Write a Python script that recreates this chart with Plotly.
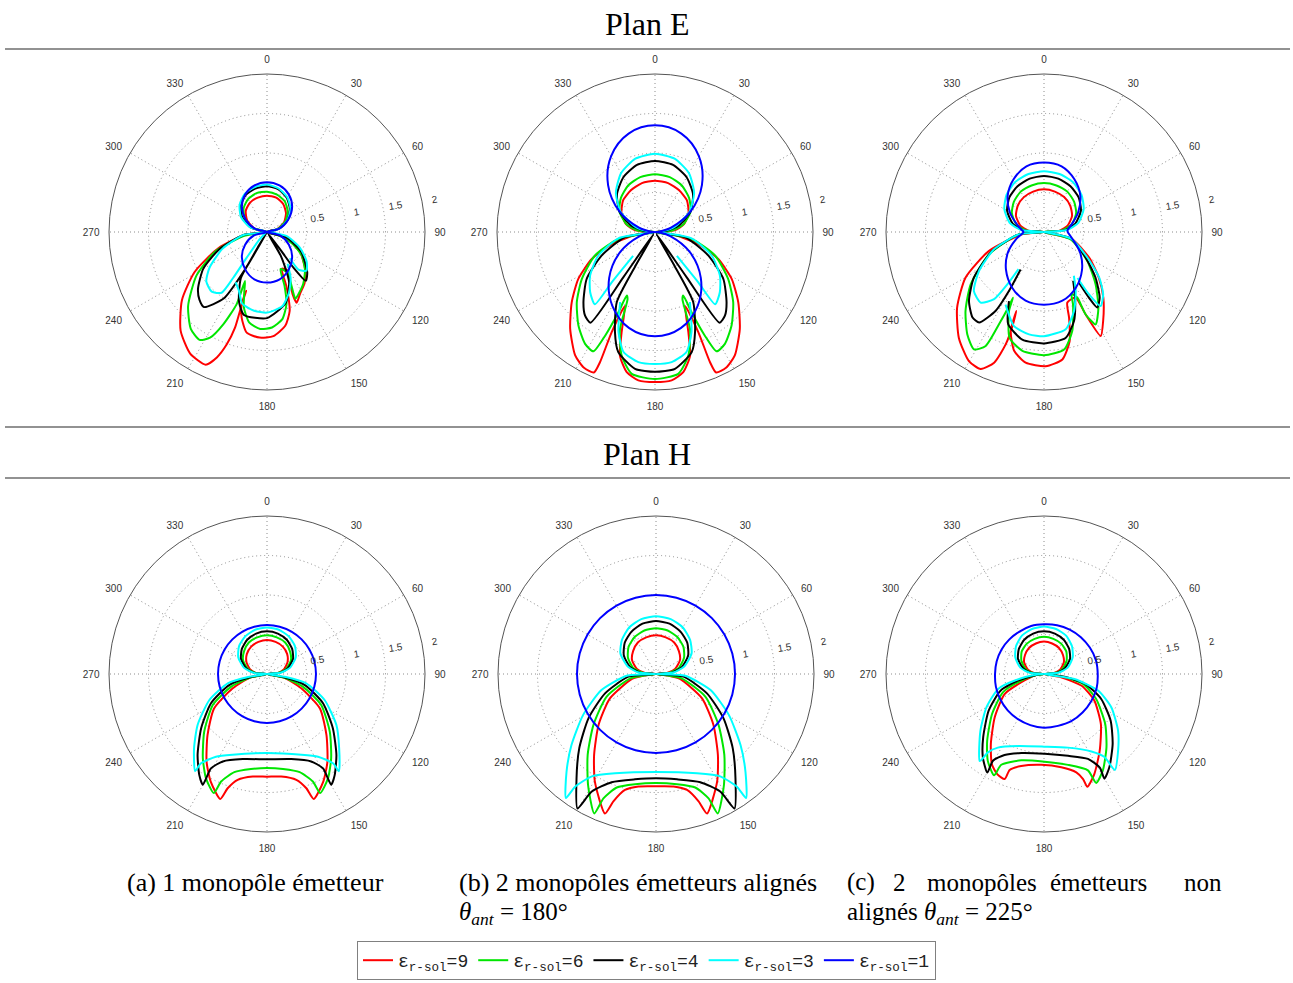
import plotly.graph_objects as go

# ---------------- data : (theta in degrees, clockwise from top ; r) ----------------
LEGEND_NAMES = ["ε<sub>r-sol</sub>=9", "ε<sub>r-sol</sub>=6", "ε<sub>r-sol</sub>=4",
                "ε<sub>r-sol</sub>=3", "ε<sub>r-sol</sub>=1"]
COLORS = ["#ff0000", "#00e600", "#000000", "#00ffff", "#0000ff"]
ANGLE_TICKS = [0, 30, 60, 90, 120, 150, 180, 210, 240, 270, 300, 330]
RADIAL_TICKS = [0.5, 1, 1.5, 2]
RADIAL_LABELS = ["0.5", "1", "1.5", "2"]
N = None

# ---- Plan E (a) : 1 monopole ----
EA_RED = [(90,0),(75,0.13),(60,0.25),(45,0.34),(30,0.41),(15,0.45),(0,0.46),(345,0.45),(330,0.43),(315,0.38),(300,0.29),(285,0.16),(270,0),
          (263.5,0.26),(251.6,0.65),(241,1.05),(231.3,1.38),(221.2,1.66),(212.3,1.82),(204.8,1.85),(201.8,1.71),(199.7,1.51),(198.5,1.28),(198.9,1.06),(199.6,0.79),
          (199.3,0.97),(196.5,1.13),(191.4,1.30),(184,1.34),(176.5,1.32),(169,1.21),(164,1.04),(160.5,0.75),(158,0.5),
          (152,0.55),(155,0.68),(157.6,0.85),(157.2,0.97),(152.1,0.89),(143.4,0.80),(134,0.67),(122,0.50),(113.4,0.34),(107.1,0.17),(90,0)]
EA_GREEN = [(90,0),(75,0.14),(60,0.27),(45,0.37),(30,0.45),(15,0.49),(0,0.51),(345,0.51),(330,0.48),(315,0.42),(300,0.32),(285,0.18),(270,0),
            (260.4,0.30),(249.3,0.70),(238.3,1.05),(226.8,1.37),(218.2,1.56),(212,1.61),(208.3,1.52),(205.3,1.29),(202.8,0.99),(204.2,0.68),
            (201,0.8),(197,1.0),(191,1.17),(184,1.23),(177,1.21),(170,1.12),(165,0.95),(162,0.72),(160,0.5),
            (153,0.58),(155.5,0.75),(157,0.92),(153,0.88),(145,0.80),(135,0.68),(124,0.53),(115,0.36),(107,0.18),(90,0)]
EA_BLACK = [(90,0),(75,0.16),(60,0.30),(45,0.41),(30,0.50),(15,0.56),(0,0.58),(345,0.57),(330,0.54),(315,0.47),(300,0.36),(285,0.21),(270,0),
            (262.8,0.30),(249.8,0.65),(240.1,0.93),(230.6,1.13),(225,1.21),(220,1.24),(213,1.0),(210.4,0.53),(211,0.2),(212,0.02),(210,0.35),(209.6,0.67),
            (201.9,0.95),(195.5,1.09),(180,1.09),(165.3,0.93),(156.1,0.69),(150,0.35),(145,0.02),
            (143,0.3),(143.4,0.57),(141.5,0.79),(135,0.72),(120,0.50),(106,0.26),(90,0)]
EA_CYAN = [(90,0),(75,0.16),(60,0.30),(45,0.42),(30,0.51),(15,0.57),(0,0.60),(345,0.59),(330,0.56),(315,0.49),(300,0.38),(285,0.22),(270,0),
           (262.8,0.30),(249.5,0.60),(238,0.86),(230.9,0.99),(222.8,1.03),(216.8,0.96),(216.4,0.72),(218.4,0.41),(223.9,0.16),(240,0.02),(N,N),
           (212,0.75),(205.8,0.82),(199.1,0.96),(189.3,1.01),(180,1.02),(168.4,0.96),(160.3,0.82),(153,0.66),(147,0.48),(N,N),
           (139,0.44),(140,0.62),(134.5,0.70),(126.2,0.62),(115.4,0.46),(101.5,0.25),(90,0)]
EA_BLUE = [(90,0),(75,0.16),(60,0.31),(45,0.45),(30,0.55),(15,0.61),(0,0.63),(345,0.61),(330,0.55),(315,0.45),(300,0.31),(285,0.16),(270,0),
           (255,0.17),(240,0.32),(225,0.45),(210,0.55),(195,0.62),(180,0.64),(165,0.62),(150,0.55),(135,0.45),(120,0.32),(105,0.17),(90,0)]

# ---- Plan E (b) : 2 monopoles alignes ----
EB_RED = [(90,0),(85,0.25),(75,0.38),(60,0.49),(45,0.57),(30,0.61),(15,0.64),(0,0.65),(345,0.64),(330,0.61),(315,0.57),(300,0.49),(285,0.38),(275,0.25),(270,0),
          (263.2,0.21),(254.5,0.57),(246.9,0.87),(238.5,1.14),(229.8,1.38),(221.2,1.63),(212.9,1.86),(207.6,1.94),(203.5,1.94),(202.9,1.79),(203.4,1.38),(202.2,1.01),
          (198.4,1.34),(195.8,1.63),(191.4,1.81),(186.4,1.89),(180,1.90),(173.6,1.89),(168.6,1.81),(164.2,1.63),(161.6,1.34),(157.8,1.01),
          (156.6,1.38),(157.1,1.79),(156.5,1.94),(152.4,1.94),(147.1,1.86),(138.8,1.63),(130.2,1.38),(121.5,1.14),(113.1,0.87),(105.5,0.57),(96.8,0.21),(90,0)]
EB_GREEN = [(90,0),(85,0.22),(75,0.37),(60,0.52),(45,0.61),(30,0.68),(15,0.72),(0,0.73),(345,0.72),(330,0.68),(315,0.61),(300,0.52),(285,0.37),(275,0.22),(270,0),
            (259.2,0.47),(248.5,0.82),(237.3,1.10),(228.1,1.33),(219.3,1.53),(212,1.67),(207.3,1.70),(205.7,1.46),(204.5,1.12),(204,0.88),
            (202.2,0.92),(199.8,1.31),(195.1,1.62),(189.3,1.82),(180,1.86),(170.7,1.82),(164.9,1.62),(160.2,1.31),(157.8,0.92),
            (156,0.88),(155.5,1.12),(154.3,1.46),(152.7,1.70),(148,1.67),(140.7,1.53),(131.9,1.33),(122.7,1.10),(111.5,0.82),(100.8,0.47),(90,0)]
EB_BLACK = [(90,0),(85,0.13),(75,0.31),(60,0.52),(45,0.68),(30,0.80),(15,0.88),(0,0.90),(345,0.88),(330,0.80),(315,0.68),(300,0.52),(285,0.31),(275,0.13),(270,0),
            (260,0.39),(246.1,0.74),(235.5,1.05),(225.5,1.27),(219.9,1.38),(215.5,1.41),(215,0.7),(214,0.03),(210,0.5),(208.6,1.01),
            (201.7,1.37),(197,1.59),(188.3,1.75),(180,1.77),(171.7,1.75),(163,1.59),(158.3,1.37),(151.4,1.01),(150,0.5),(146,0.03),
            (145,0.7),(144.5,1.41),(140.1,1.38),(134.5,1.27),(124.5,1.05),(113.9,0.74),(100,0.39),(90,0)]
EB_CYAN = [(90,0),(85,0.09),(75,0.26),(60,0.5),(45,0.70),(30,0.86),(15,0.96),(0,0.99),(345,0.96),(330,0.86),(315,0.70),(300,0.5),(285,0.26),(275,0.09),(270,0),
           (260.2,0.47),(247.3,0.78),(236.1,0.99),(227.1,1.12),(219.8,1.19),(220.7,0.84),(222.5,0.41),(N,N),
           (206.5,0.99),(200,1.35),(194.7,1.57),(187.3,1.66),(180,1.67),(172.7,1.66),(165.3,1.57),(160,1.35),(153.5,0.99),(N,N),
           (137.5,0.41),(139.3,0.84),(140.2,1.19),(132.9,1.12),(123.9,0.99),(112.7,0.78),(99.8,0.47),(90,0)]
EB_BLUE = [(90,0),(85,0.05),(75,0.21),(60,0.52),(45,0.84),(30,1.11),(15,1.29),(0,1.35),(345,1.29),(330,1.11),(315,0.84),(300,0.52),(285,0.21),(275,0.05),(270,0),
           (265,0.05),(255,0.2),(240,0.51),(225,0.82),(210,1.08),(195,1.26),(180,1.32),(165,1.26),(150,1.08),(135,0.82),(120,0.51),(105,0.2),(95,0.05),(90,0)]

# ---- Plan E (c) : 2 monopoles non alignes ----
EC_RED = [(90,0),(85,0.2),(75,0.31),(60,0.41),(45,0.47),(30,0.51),(15,0.53),(0,0.54),(345,0.53),(330,0.51),(315,0.47),(300,0.41),(285,0.31),(275,0.2),(270,0),
          (263.9,0.28),(250.9,0.74),(239.8,1.15),(228.9,1.46),(218.8,1.72),(210.2,1.89),(204.8,1.91),(200.9,1.77),(198.8,1.50),(198.6,1.23),(199.3,1.06),
          (198.6,1.32),(194.1,1.55),(188,1.67),(179.3,1.70),(171.8,1.63),(166.8,1.42),(163.7,1.13),(161.7,0.94),
          (154.3,0.92),(153.2,1.17),(151.4,1.50),(146.3,1.35),(137.9,1.12),(129.7,0.90),(119.7,0.66),(104.5,0.37),(90,0)]
EC_GREEN = [(90,0),(85,0.23),(75,0.36),(60,0.47),(45,0.54),(30,0.59),(15,0.61),(0,0.62),(345,0.61),(330,0.59),(315,0.54),(300,0.47),(285,0.36),(275,0.23),(270,0),
            (264.7,0.32),(247.9,0.75),(234.5,1.14),(224.8,1.41),(216.8,1.62),(210.8,1.73),(207.1,1.62),(206,1.30),(205.3,1.04),(205.3,0.92),
            (203.9,1.09),(198,1.41),(190.3,1.53),(180,1.56),(170.3,1.51),(164,1.30),(158.2,0.99),(156.1,0.86),
            (153.1,0.93),(153.2,1.17),(150.8,1.34),(144.3,1.18),(135.4,0.93),(123.8,0.66),(105.4,0.35),(90,0)]
EC_BLACK = [(90,0),(85,0.27),(75,0.41),(60,0.54),(45,0.62),(30,0.67),(15,0.70),(0,0.71),(345,0.70),(330,0.67),(315,0.62),(300,0.54),(285,0.41),(275,0.27),(270,0),
            (264.7,0.32),(249.8,0.70),(236.9,1.06),(227.4,1.29),(219.9,1.41),(215.6,1.41),(211.5,1.17),(210.7,0.87),(212,0.56),(N,N),
            (206.9,0.98),(201.3,1.25),(191.4,1.39),(180,1.41),(168.5,1.37),(161.4,1.19),(154.7,0.92),(149.1,0.72),(N,N),
            (145.4,0.78),(145.6,1.01),(144.8,1.17),(139.7,1.09),(131.5,0.87),(121.6,0.62),(104,0.35),(90,0)]
EC_CYAN = [(90,0),(85,0.29),(75,0.45),(60,0.58),(45,0.67),(30,0.73),(15,0.76),(0,0.77),(345,0.76),(330,0.73),(315,0.67),(300,0.58),(285,0.45),(275,0.29),(270,0),
           (264.7,0.32),(250.9,0.67),(239,0.96),(229.9,1.16),(221.9,1.20),(216.6,1.06),(215,0.81),(214.5,0.57),(N,N),
           (207.9,1.04),(197.7,1.25),(188.3,1.31),(180,1.32),(167.4,1.26),(159.2,1.07),(151.8,0.85),(145.7,0.67),(N,N),
           (143.9,0.72),(144.2,0.97),(142.6,1.18),(136.6,1.09),(129.7,0.91),(120.6,0.64),(104,0.35),(90,0)]
EC_BLUE = [(0,0.88),(15,0.86),(30,0.77),(45,0.65),(60,0.5),(75,0.36),(85,0.3),(90,0.3),(95,0.32),(105,0.38),(120,0.53),(135,0.68),(150,0.81),(165,0.9),
           (180,0.92),(195,0.9),(210,0.81),(225,0.68),(240,0.53),(255,0.37),(265,0.28),(270,0.26),(275,0.28),(285,0.35),(300,0.5),(315,0.65),(330,0.77),(345,0.86),(360,0.88)]

# ---- Plan H (a) ----
HA_RED = [(90,0),(85,0.13),(75,0.22),(60,0.30),(45,0.36),(30,0.40),(15,0.42),(0,0.43),(345,0.42),(330,0.40),(315,0.36),(300,0.30),(285,0.22),(275,0.13),(270,0),
          (258,0.22),(247.3,0.47),(236.9,0.80),(224.2,1.08),(214.5,1.35),(207.5,1.54),(200.5,1.69),(199,1.53),(195.5,1.39),(187.9,1.31),(180,1.30),
          (172.1,1.31),(164.5,1.39),(161,1.53),(159.5,1.69),(152.5,1.54),(145.5,1.35),(135.8,1.08),(123.1,0.80),(112.7,0.47),(102,0.22),(90,0)]
HA_GREEN = [(90,0),(85,0.14),(75,0.25),(60,0.35),(45,0.41),(30,0.46),(15,0.48),(0,0.49),(345,0.48),(330,0.46),(315,0.41),(300,0.35),(285,0.25),(275,0.14),(270,0),
            (258,0.22),(250.6,0.48),(240.3,0.79),(227.4,1.08),(217.3,1.34),(210.3,1.53),(204.1,1.65),(203.1,1.48),(198.4,1.31),(189.6,1.22),(180,1.19),
            (170.4,1.22),(161.6,1.31),(156.9,1.48),(155.9,1.65),(149.7,1.53),(142.7,1.34),(132.6,1.08),(119.7,0.79),(109.4,0.48),(102,0.22),(90,0)]
HA_BLACK = [(90,0),(85,0.16),(75,0.27),(60,0.38),(45,0.45),(30,0.50),(15,0.53),(0,0.54),(345,0.53),(330,0.50),(315,0.45),(300,0.38),(285,0.27),(275,0.16),(270,0),
            (259,0.22),(253.7,0.50),(242.4,0.80),(230.5,1.08),(220.6,1.35),(213.8,1.54),(210.1,1.62),(210.7,1.39),(206.8,1.24),(195.9,1.12),(180,1.08),
            (164.1,1.12),(153.2,1.24),(149.3,1.39),(149.9,1.62),(146.2,1.54),(139.4,1.35),(129.5,1.08),(117.6,0.80),(106.3,0.50),(101,0.22),(90,0)]
HA_CYAN = [(90,0),(85,0.17),(75,0.30),(60,0.42),(45,0.50),(30,0.55),(15,0.58),(0,0.59),(345,0.58),(330,0.55),(315,0.50),(300,0.42),(285,0.30),(275,0.17),(270,0),
           (261,0.24),(256.7,0.51),(245.7,0.80),(233.7,1.09),(224.4,1.32),(216.5,1.53),(216.5,1.41),(211.7,1.23),(203.1,1.11),(180,1.0),
           (156.9,1.11),(148.3,1.23),(143.5,1.41),(143.5,1.53),(135.8,1.31),(126.3,1.09),(114.3,0.80),(103.3,0.51),(99,0.24),(90,0)]
HA_BLUE = [(0,0.62),(15,0.62),(30,0.62),(45,0.62),(60,0.62),(75,0.62),(90,0.62),(105,0.62),(120,0.62),(135,0.62),(150,0.62),(165,0.62),(180,0.62),
           (195,0.62),(210,0.62),(225,0.62),(240,0.62),(255,0.62),(270,0.62),(285,0.62),(300,0.62),(315,0.62),(330,0.62),(345,0.62),(360,0.62)]

# ---- Plan H (b) ----
HB_RED = [(90,0),(85,0.14),(75,0.25),(60,0.35),(45,0.41),(30,0.46),(15,0.48),(0,0.49),(345,0.48),(330,0.46),(315,0.41),(300,0.35),(285,0.25),(275,0.14),(270,0),
          (263,0.15),(258.4,0.31),(242.1,0.66),(228.5,0.97),(217.4,1.29),(209.5,1.57),(200.1,1.88),(198.5,1.70),(195,1.52),(188.9,1.44),(180,1.42),
          (171.1,1.44),(165,1.52),(161.5,1.70),(159.9,1.88),(150.5,1.57),(142.6,1.29),(131.5,0.97),(117.9,0.66),(101.6,0.31),(97,0.15),(90,0)]
HB_GREEN = [(90,0),(85,0.17),(75,0.30),(60,0.41),(45,0.49),(30,0.54),(15,0.57),(0,0.58),(345,0.57),(330,0.54),(315,0.49),(300,0.41),(285,0.30),(275,0.17),(270,0),
            (263,0.15),(260.5,0.33),(245.3,0.69),(230.9,1.02),(220.2,1.34),(211.4,1.65),(203.9,1.93),(202.9,1.71),(199.1,1.52),(190.8,1.42),(180,1.38),
            (169.2,1.42),(160.9,1.52),(157.1,1.71),(156.1,1.93),(148.6,1.65),(139.8,1.34),(129.1,1.02),(114.7,0.69),(99.5,0.33),(97,0.15),(90,0)]
HB_BLACK = [(90,0),(85,0.20),(75,0.34),(60,0.47),(45,0.56),(30,0.62),(15,0.66),(0,0.67),(345,0.66),(330,0.62),(315,0.56),(300,0.47),(285,0.34),(275,0.20),(270,0),
            (264.5,0.35),(249.2,0.69),(236.8,1.02),(226,1.35),(217.3,1.66),(210.3,1.97),(208.7,1.70),(202.3,1.48),(191.3,1.36),(180,1.32),
            (168.7,1.36),(157.7,1.48),(151.3,1.70),(149.7,1.97),(142.7,1.66),(134,1.35),(123.2,1.02),(110.8,0.69),(95.5,0.35),(90,0)]
HB_CYAN = [(90,0),(85,0.22),(75,0.37),(60,0.52),(45,0.61),(30,0.68),(15,0.72),(0,0.73),(345,0.72),(330,0.68),(315,0.61),(300,0.52),(285,0.37),(275,0.22),(270,0),
           (266.7,0.37),(253.6,0.72),(240.6,1.06),(229.9,1.40),(222.4,1.68),(216,1.94),(215.7,1.76),(212.1,1.53),(202.4,1.36),(180,1.24),
           (157.6,1.36),(147.9,1.53),(144.3,1.76),(144,1.94),(137.6,1.68),(130.1,1.40),(119.4,1.06),(106.4,0.72),(93.3,0.37),(90,0)]
HB_BLUE = [(0,1.0),(15,1.0),(30,1.0),(45,1.0),(60,1.0),(75,1.0),(90,1.0),(105,1.0),(120,1.0),(135,1.0),(150,1.0),(165,1.0),(180,1.0),
           (195,1.0),(210,1.0),(225,1.0),(240,1.0),(255,1.0),(270,1.0),(285,1.0),(300,1.0),(315,1.0),(330,1.0),(345,1.0),(360,1.0)]

# ---- Plan H (c) ----
HC_RED = [(90,0),(85,0.12),(75,0.21),(60,0.29),(45,0.34),(30,0.38),(15,0.40),(0,0.41),(345,0.40),(330,0.38),(315,0.34),(300,0.29),(285,0.21),(275,0.12),(270,0),
          (262,0.1),(249.8,0.31),(243,0.56),(228.7,0.83),(217.3,1.11),(210,1.32),(204.9,1.40),(200.5,1.42),(199.7,1.29),(193.9,1.20),(181.7,1.15),
          (169.5,1.20),(161.8,1.31),(159.6,1.42),(159,1.53),(153.4,1.42),(144,1.20),(131.4,0.96),(117.8,0.72),(107.4,0.50),(100.9,0.22),(90,0)]
HC_GREEN = [(90,0),(85,0.14),(75,0.24),(60,0.33),(45,0.40),(30,0.44),(15,0.46),(0,0.47),(345,0.46),(330,0.44),(315,0.40),(300,0.33),(285,0.24),(275,0.14),(270,0),
            (262,0.1),(253.2,0.32),(245.9,0.57),(232.4,0.83),(220.4,1.11),(212.9,1.31),(206.2,1.43),(205.2,1.27),(194.7,1.13),(179.6,1.11),
            (165.2,1.19),(155.5,1.34),(154.4,1.53),(148.6,1.43),(139.6,1.22),(129.2,1.0),(115.5,0.73),(104.4,0.51),(98,0.24),(90,0)]
HC_BLACK = [(90,0),(85,0.16),(75,0.27),(60,0.38),(45,0.45),(30,0.50),(15,0.53),(0,0.54),(345,0.53),(330,0.50),(315,0.45),(300,0.38),(285,0.27),(275,0.16),(270,0),
            (263,0.1),(255.6,0.34),(249,0.59),(236.5,0.84),(223.9,1.11),(216.2,1.31),(209.9,1.44),(210.5,1.27),(206,1.14),(195.9,1.04),(179.5,1.01),
            (163.6,1.08),(152.6,1.21),(149.2,1.38),(150,1.53),(144.9,1.44),(135.5,1.24),(125,1.03),(113.6,0.79),(104.1,0.55),(97.4,0.26),(90,0)]
HC_CYAN = [(90,0),(85,0.18),(75,0.31),(60,0.42),(45,0.50),(30,0.56),(15,0.59),(0,0.60),(345,0.59),(330,0.56),(315,0.50),(300,0.42),(285,0.31),(275,0.18),(270,0),
           (264,0.1),(257.8,0.36),(252,0.61),(240,0.84),(228.2,1.08),(216.4,1.37),(215.6,1.22),(212.1,1.10),(199.8,0.97),(180,0.92),
           (162,0.98),(148.5,1.15),(143.9,1.30),(143.6,1.51),(136,1.35),(127.4,1.18),(116.3,0.95),(107.2,0.72),(99.3,0.39),(90,0)]
HC_BLUE = [(0,0.63),(15,0.64),(30,0.65),(45,0.66),(60,0.67),(75,0.68),(90,0.68),(105,0.69),(120,0.69),(135,0.69),(150,0.69),(165,0.68),(180,0.68),
           (195,0.67),(210,0.66),(225,0.65),(240,0.64),(255,0.63),(270,0.62),(285,0.62),(300,0.62),(315,0.62),(330,0.62),(345,0.63),(360,0.63)]

PANELS = [
    ("polar",  [EA_RED, EA_GREEN, EA_BLACK, EA_CYAN, EA_BLUE]),
    ("polar2", [EB_RED, EB_GREEN, EB_BLACK, EB_CYAN, EB_BLUE]),
    ("polar3", [EC_RED, EC_GREEN, EC_BLACK, EC_CYAN, EC_BLUE]),
    ("polar4", [HA_RED, HA_GREEN, HA_BLACK, HA_CYAN, HA_BLUE]),
    ("polar5", [HB_RED, HB_GREEN, HB_BLACK, HB_CYAN, HB_BLUE]),
    ("polar6", [HC_RED, HC_GREEN, HC_BLACK, HC_CYAN, HC_BLUE]),
]

# ---------------- figure ----------------
W, H = 1293, 983
R_PX = 158
CENTERS = [(267, 232), (655, 232), (1044, 232), (267, 674), (656, 674), (1044, 674)]

fig = go.Figure()
for k, (pname, curves) in enumerate(PANELS):
    for j, (curve, color, name) in enumerate(zip(curves, COLORS, LEGEND_NAMES)):
        fig.add_trace(go.Scatterpolar(
            theta=[p[0] for p in curve], r=[p[1] for p in curve],
            mode="lines", subplot=pname, name=name, showlegend=(k == 0),
            line=dict(color=color, width=2, shape="spline",
                      smoothing=(1.0 if j == 4 else 0.6)),
            hoverinfo="skip"))

grid = "#8c8c8c"
tick_font = dict(family="Liberation Sans", size=10, color="#333333")
layout = dict(width=W, height=H, margin=dict(l=0, r=0, t=0, b=0),
              paper_bgcolor="white", plot_bgcolor="white", showlegend=True)
for k, (pname, _) in enumerate(PANELS):
    cx, cy = CENTERS[k]
    layout[pname] = dict(
        domain=dict(x=[(cx - R_PX) / W, (cx + R_PX) / W],
                    y=[1 - (cy + R_PX) / H, 1 - (cy - R_PX) / H]),
        bgcolor="white",
        angularaxis=dict(rotation=90, direction="clockwise", tickvals=ANGLE_TICKS,
                         ticktext=[str(a) for a in ANGLE_TICKS],
                         ticks="outside", ticklen=7, tickcolor="rgba(0,0,0,0)",
                         showline=True, linecolor="#555555", linewidth=1,
                         gridcolor=grid, griddash="1px,3px", gridwidth=1,
                         tickfont=tick_font),
        radialaxis=dict(range=[0, 2], tickvals=RADIAL_TICKS,
                        ticktext=["\u00a0" * 9 + t for t in RADIAL_LABELS],
                        showline=False, ticks="", angle=9, tickangle=0,
                        side="counterclockwise",
                        gridcolor=grid, griddash="1px,3px", gridwidth=1,
                        tickfont=tick_font),
    )

shapes = []
for ypx in (49, 427, 478):
    shapes.append(dict(type="line", xref="paper", yref="paper", x0=5 / W, x1=1290 / W,
                       y0=1 - ypx / H, y1=1 - ypx / H, line=dict(color="#6e6e6e", width=1.5)))
layout["shapes"] = shapes

serif = "Liberation Serif"
def ann(text, xpx, ypx, size, xanchor="left"):
    return dict(text=text, x=xpx / W, y=1 - ypx / H, xref="paper", yref="paper",
                xanchor=xanchor, yanchor="middle", showarrow=False,
                font=dict(family=serif, size=size, color="black"))

CAP = 25
annotations = [
    ann("Plan E", 647, 24, 32, "center"),
    ann("Plan H", 647, 454, 32, "center"),
    ann("(a) 1 monopôle émetteur", 125, 882, 26),
    ann("(b) 2 monopôles émetteurs alignés", 457, 882, 26),
    ann("<i>θ<sub>ant</sub></i> = 180°", 457, 913, CAP),
    ann("(c)", 845, 882, CAP),
    ann("2", 891, 882, CAP),
    ann("monopôles", 925, 882, CAP),
    ann("émetteurs", 1048, 882, CAP),
    ann("non", 1224, 882, CAP, "right"),
    ann("alignés <i>θ<sub>ant</sub></i> = 225°", 845, 913, CAP),
]
layout["annotations"] = annotations
layout["legend"] = dict(orientation="h", x=0.5, xanchor="center", y=1 - 941 / H, yanchor="top",
                        bordercolor="#808080", borderwidth=1, bgcolor="white",
                        font=dict(family="Liberation Mono", size=18, color="#222222"),
                        itemwidth=30, tracegroupgap=0)
fig.update_layout(**layout)

fig.write_html("out.html", config={"displayModeBar": False},
               post_script="document.body.style.margin='0';")
